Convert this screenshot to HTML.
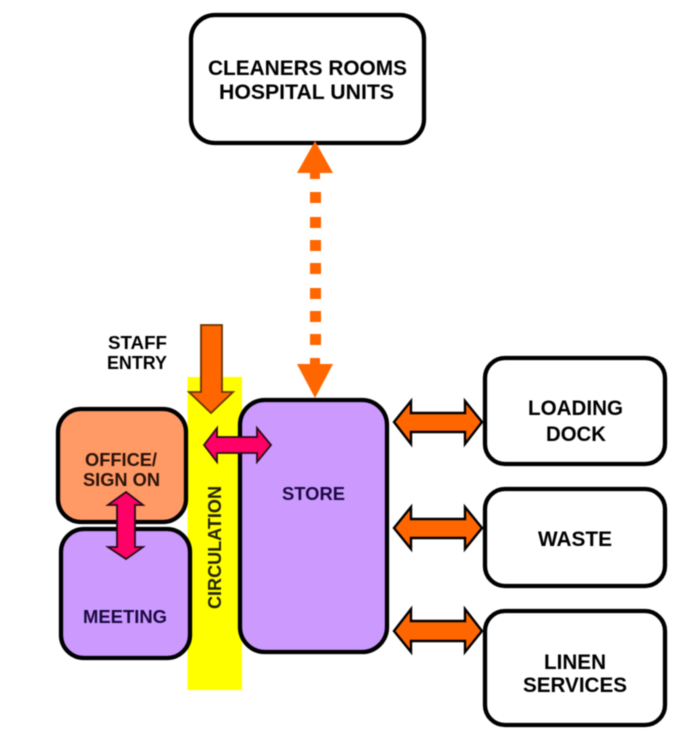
<!DOCTYPE html>
<html>
<head>
<meta charset="utf-8">
<style>
html,body{margin:0;padding:0;background:#fff;width:697px;height:737px;overflow:hidden}
svg{display:block;filter:blur(0.45px)}
text{font-family:"Liberation Sans",sans-serif;font-weight:bold;fill:#000;font-size:18px}
</style>
</head>
<body>
<svg width="697" height="737" viewBox="0 0 697 737" xmlns="http://www.w3.org/2000/svg">
<rect x="187.500" y="377" width="54.500" height="313" fill="#ffff00"/>
<g stroke="#000" stroke-width="4.300">
<rect x="191" y="15" width="233" height="128" rx="24" fill="#fff"/>
<rect x="61" y="529" width="129" height="129" rx="23" fill="#cc99ff"/>
<rect x="58" y="409" width="128" height="113" rx="23" fill="#ff9966"/>
<rect x="240" y="400" width="147" height="252" rx="25" fill="#cc99ff"/>
<rect x="485" y="358" width="180" height="106" rx="20" fill="#fff"/>
<rect x="485" y="489" width="180" height="97" rx="20" fill="#fff"/>
<rect x="485" y="611" width="180" height="114" rx="20" fill="#fff"/>
</g>
<!-- dotted double arrow -->
<g fill="#ff6600">
<polygon points="315,141 333,173 320,173 320,179 310,179 310,173 297,173"/>
<rect x="310" y="192" width="11" height="11"/>
<rect x="310" y="217" width="11" height="11"/>
<rect x="310" y="240" width="11" height="11"/>
<rect x="310" y="263" width="11" height="11"/>
<rect x="310" y="288" width="11" height="11"/>
<rect x="310" y="311" width="11" height="11"/>
<rect x="310" y="334" width="11" height="11"/>
<polygon points="315,398 333,364 320,364 320,358 310,358 310,364 297,364"/>
</g>
<!-- staff entry arrow -->
<polygon points="201,325 222,325 222,392 233,392 211,413 189,392 201,392" fill="#ff6600" stroke="#6a3300" stroke-width="1.800"/>
<!-- pink arrows -->
<polygon points="204,445 217,428 217,437 257,437 257,428 271,445 257,462 257,453 217,453 217,462" fill="#ff0066" stroke="#2a0a18" stroke-width="1.800"/>
<polygon points="126,492 143,505 135,505 135,547 143,547 126,559 108,547 117,547 117,505 108,505" fill="#ff0066" stroke="#2a0a18" stroke-width="1.800"/>
<!-- orange double arrows -->
<g fill="#ff6600" stroke="#000" stroke-width="2.400">
<polygon points="394,422 411,401 411,413 465,413 465,401 482,422 465,444 465,432 411,432 411,444"/>
<polygon points="394,528 411,507 411,519 465,519 465,507 482,528 465,549 465,538 411,538 411,549"/>
<polygon points="394,631 411,609 411,621 465,621 465,609 482,631 465,652 465,641 411,641 411,652"/>
</g>
<text x="208" y="75" textLength="199" lengthAdjust="spacingAndGlyphs" style="font-size:21px">CLEANERS ROOMS</text>
<text x="219" y="99" textLength="175" lengthAdjust="spacingAndGlyphs" style="font-size:21px">HOSPITAL UNITS</text>
<text x="108" y="349" textLength="59" lengthAdjust="spacingAndGlyphs" style="font-size:18px">STAFF</text>
<text x="107" y="369" textLength="60" lengthAdjust="spacingAndGlyphs" style="font-size:18px">ENTRY</text>
<text x="85" y="466" textLength="72" lengthAdjust="spacingAndGlyphs" style="font-size:18px;fill:#2a1208">OFFICE/</text>
<text x="83" y="486" textLength="77" lengthAdjust="spacingAndGlyphs" style="font-size:18px;fill:#2a1208">SIGN ON</text>
<text x="282" y="500" textLength="63" lengthAdjust="spacingAndGlyphs" style="font-size:18px;fill:#1a0a40">STORE</text>
<text x="83" y="623" textLength="84" lengthAdjust="spacingAndGlyphs" style="font-size:18px;fill:#1a0a40">MEETING</text>
<text transform="translate(221,609) rotate(-90)" x="0" y="0" textLength="123" lengthAdjust="spacingAndGlyphs" style="font-size:18px;fill:#222200">CIRCULATION</text>
<text x="528" y="415" textLength="95" lengthAdjust="spacingAndGlyphs" style="font-size:21px">LOADING</text>
<text x="546" y="441" textLength="60" lengthAdjust="spacingAndGlyphs" style="font-size:21px">DOCK</text>
<text x="538" y="546" textLength="74" lengthAdjust="spacingAndGlyphs" style="font-size:21px">WASTE</text>
<text x="544" y="669" textLength="62" lengthAdjust="spacingAndGlyphs" style="font-size:21px">LINEN</text>
<text x="523" y="692" textLength="104" lengthAdjust="spacingAndGlyphs" style="font-size:21px">SERVICES</text>
</svg>
</body>
</html>
